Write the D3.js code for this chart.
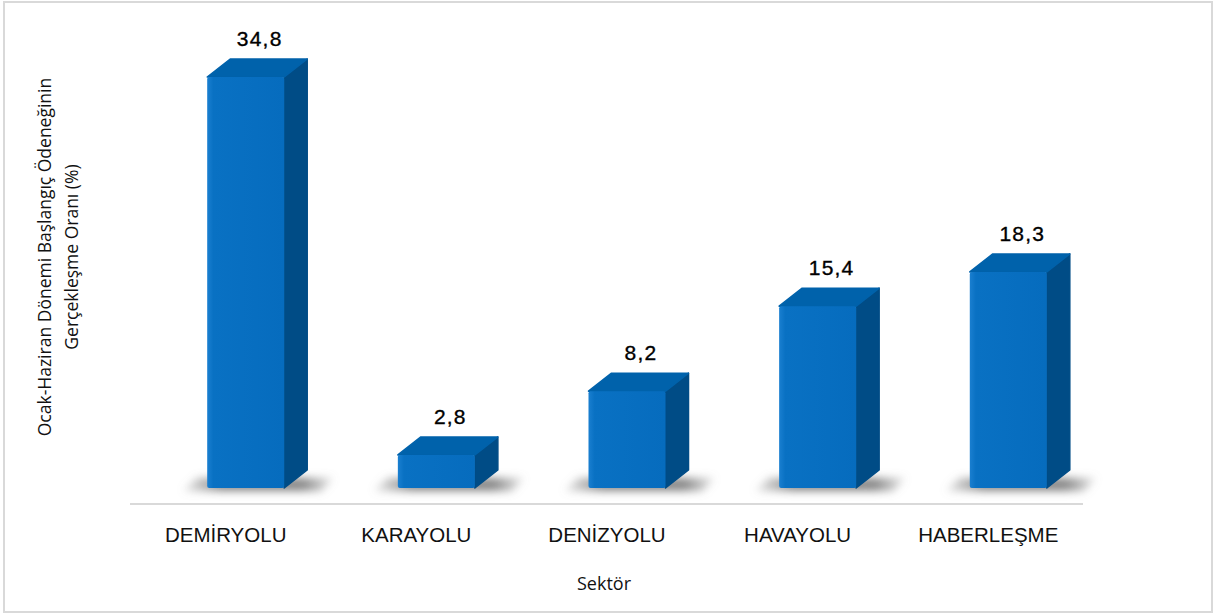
<!DOCTYPE html>
<html>
<head>
<meta charset="utf-8">
<script src="https://cdn.jsdelivr.net/npm/d3@7"></script>
<style>
  html, body { margin: 0; padding: 0; background: #fff; }
  svg { display: block; }
</style>
</head>
<body>
<div id="chart"></div>
<script>
// chart data
const sectors = ["DEMİRYOLU", "KARAYOLU", "DENİZYOLU", "HAVAYOLU", "HABERLEŞME"];
const rates = [34.8, 2.8, 8.2, 15.4, 18.3];
const xTitle = "Sektör";
const yTitleLines = ["Ocak-Haziran Dönemi Başlangıç Ödeneğinin", "Gerçekleşme Oranı (%)"];

const width = 1215, height = 615;
const base = 488;          // bottom of the front faces
const depthX = 23, depthY = 18;

const svg = d3.select("#chart").append("svg")
    .attr("width", width)
    .attr("height", height);

const defs = svg.append("defs");

// front face gradient, lighter on the left edge
const grad = defs.append("linearGradient")
    .attr("id", "frontGrad")
    .attr("x1", 0).attr("x2", 1).attr("y1", 0).attr("y2", 0);
grad.append("stop").attr("offset", "0%").attr("stop-color", "#1a7fd0");
grad.append("stop").attr("offset", "8%").attr("stop-color", "#0971c3");
grad.append("stop").attr("offset", "100%").attr("stop-color", "#066cbe");

// shadow fades out to the sides
const shGrad = defs.append("linearGradient")
    .attr("id", "shadowGrad")
    .attr("x1", 0).attr("x2", 1).attr("y1", 0).attr("y2", 0);
shGrad.append("stop").attr("offset", "0%").attr("stop-color", "#8a8a8a").attr("stop-opacity", 0.2);
shGrad.append("stop").attr("offset", "25%").attr("stop-color", "#7a7a7a").attr("stop-opacity", 0.9);
shGrad.append("stop").attr("offset", "80%").attr("stop-color", "#7a7a7a").attr("stop-opacity", 0.9);
shGrad.append("stop").attr("offset", "100%").attr("stop-color", "#8a8a8a").attr("stop-opacity", 0.2);

defs.append("filter")
    .attr("id", "blur")
    .attr("filterUnits", "userSpaceOnUse")
    .attr("x", 0).attr("y", 400).attr("width", width).attr("height", 150)
    .append("feGaussianBlur").attr("stdDeviation", 4);

// outer frame
svg.append("rect")
    .attr("x", 4).attr("y", 2)
    .attr("width", 1208).attr("height", 610)
    .attr("fill", "none")
    .attr("stroke", "#d9d9d9")
    .attr("stroke-width", 2);

const x = d3.scaleBand()
    .domain(sectors)
    .range([150, 1104])
    .paddingInner(0.596)
    .paddingOuter(0.3);

const y = d3.scaleLinear()
    .domain([0, 40])
    .range([base, base - 40 * 11.81]);

const bw = x.bandwidth();

// floor line
svg.append("line")
    .attr("x1", 130).attr("x2", 1083)
    .attr("y1", 504).attr("y2", 504)
    .attr("stroke", "#d9d9d9")
    .attr("stroke-width", 2);

const data = sectors.map((s, i) => ({ sector: s, value: rates[i] }));

// soft floor shadows
svg.append("g")
    .attr("filter", "url(#blur)")
    .selectAll("path")
    .data(data)
    .enter()
    .append("path")
    .attr("d", d => {
        const x0 = x(d.sector) - 24, x1 = x(d.sector) + bw + depthX + 26;
        return `M${x0},${base + 3} L${x0 + 14},${base - 10} L${x1},${base - 10} L${x1 - 12},${base + 3} Z`;
    })
    .attr("fill", "url(#shadowGrad)");

const bars = svg.append("g").selectAll("g")
    .data(data)
    .enter()
    .append("g");

// side face
bars.append("path")
    .attr("d", d => {
        const x1 = x(d.sector) + bw, yt = y(d.value);
        return `M${x1},${yt} L${x1 + depthX},${yt - depthY} L${x1 + depthX},${base - depthY} L${x1},${base} Z`;
    })
    .attr("fill", "#004c86")
    .attr("stroke", "#004c86")
    .attr("stroke-linejoin", "round")
    .attr("stroke-width", 1.5);

// top face
bars.append("path")
    .attr("d", d => {
        const x0 = x(d.sector), x1 = x0 + bw, yt = y(d.value);
        return `M${x0},${yt} L${x0 + depthX},${yt - depthY} L${x1 + depthX},${yt - depthY} L${x1},${yt} Z`;
    })
    .attr("fill", "#0062ab")
    .attr("stroke", "#0062ab")
    .attr("stroke-linejoin", "round")
    .attr("stroke-width", 1.5);

// front face
bars.append("rect")
    .attr("x", d => x(d.sector))
    .attr("y", d => y(d.value))
    .attr("width", bw)
    .attr("height", d => base - y(d.value))
    .attr("rx", 2)
    .attr("fill", "url(#frontGrad)");

// value labels
bars.append("text")
    .text(d => d3.format(".1f")(d.value).replace(".", ","))
    .attr("x", d => x(d.sector) + bw / 2 + 14)
    .attr("y", d => y(d.value) - 31)
    .attr("text-anchor", "middle")
    .attr("font-family", "'Liberation Sans', Arial, sans-serif")
    .attr("font-size", 21)
    .attr("letter-spacing", 1.2)
    .attr("fill", "#000")
    .attr("stroke", "#000")
    .attr("stroke-width", 0.35);

// category labels
svg.append("g").selectAll("text")
    .data(sectors)
    .enter()
    .append("text")
    .text(d => d)
    .attr("x", d => x(d) + bw / 2 - 20)
    .attr("y", 542)
    .attr("text-anchor", "middle")
    .attr("font-family", "'Liberation Sans', Arial, sans-serif")
    .attr("font-size", 20.5)
    .attr("fill", "#111");

// axis titles
svg.append("text")
    .text(xTitle)
    .attr("x", 604)
    .attr("y", 590)
    .attr("text-anchor", "middle")
    .attr("font-family", "'Open Sans', sans-serif")
    .attr("font-size", 18)
    .attr("fill", "#111");

svg.append("g")
    .attr("transform", "translate(51,257) rotate(-90)")
    .selectAll("text")
    .data(yTitleLines)
    .enter()
    .append("text")
    .text(d => d)
    .attr("x", 0)
    .attr("y", (d, i) => i * 27)
    .attr("text-anchor", "middle")
    .attr("font-family", "'Open Sans', sans-serif")
    .attr("font-size", 17.5)
    .attr("fill", "#111");
</script>
</body>
</html>
